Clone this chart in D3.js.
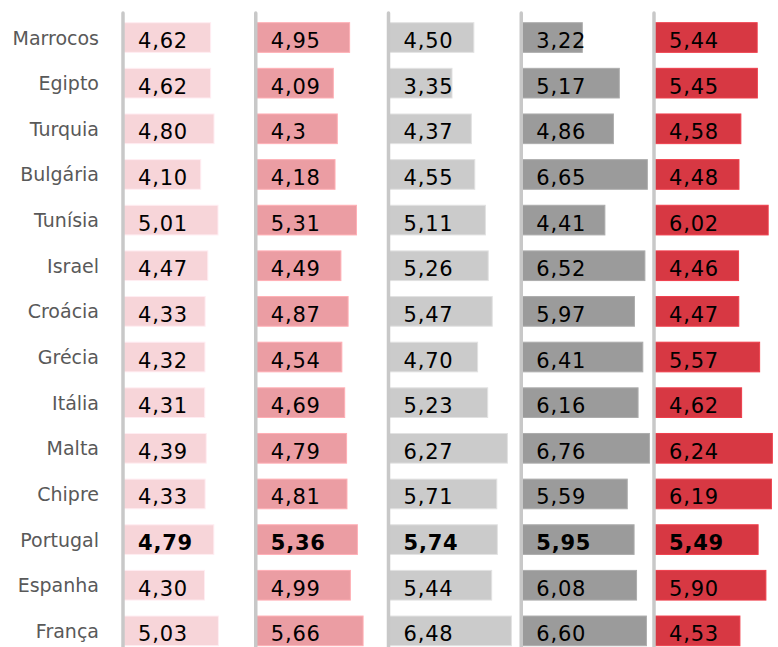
<!DOCTYPE html>
<html>
<head>
<meta charset="utf-8">
<script src="https://cdn.jsdelivr.net/npm/d3@7"></script>
<style>
  body { margin: 0; background: #fff; }
  svg { display: block; font-family: Verdana, "DejaVu Sans", sans-serif; }
</style>
</head>
<body>
<svg id="chart"></svg>
<script>
const countries = ['Marrocos', 'Egipto', 'Turquia', 'Bulgária', 'Tunísia', 'Israel', 'Croácia',
    'Grécia', 'Itália', 'Malta', 'Chipre', 'Portugal', 'Espanha', 'França'];

const series1 = [4.62, 4.62, 4.80, 4.10, 5.01, 4.47, 4.33, 4.32, 4.31, 4.39, 4.33, 4.79, 4.30, 5.03];
const series2 = [4.95, 4.09, 4.3, 4.18, 5.31, 4.49, 4.87, 4.54, 4.69, 4.79, 4.81, 5.36, 4.99, 5.66];
const series3 = [4.50, 3.35, 4.37, 4.55, 5.11, 5.26, 5.47, 4.70, 5.23, 6.27, 5.71, 5.74, 5.44, 6.48];
const series4 = [3.22, 5.17, 4.86, 6.65, 4.41, 6.52, 5.97, 6.41, 6.16, 6.76, 5.59, 5.95, 6.08, 6.60];
const series5 = [5.44, 5.45, 4.58, 4.48, 6.02, 4.46, 4.47, 5.57, 4.62, 6.24, 6.19, 5.49, 5.90, 4.53];

// labels as printed (one value shows a single decimal)
const labels2 = ['4,95', '4,09', '4,3', '4,18', '5,31', '4,49', '4,87', '4,54', '4,69', '4,79', '4,81', '5,36', '4,99', '5,66'];

const seriesColors = ['#f7d5d9', '#eb9da3', '#cbcbcb', '#9b9b9b', '#d73843'];
const highlight = 'Portugal';

const width = 778, height = 647;
const svg = d3.select('#chart').attr('width', width).attr('height', height);

const columns = [series1, series2, series3, series4, series5];
const fmt = v => v.toFixed(2).replace('.', ',');

const colStep = 132.75;
const x0 = d3.scaleBand()
    .domain(d3.range(columns.length))
    .range([123, 123 + colStep * columns.length]);

const x = d3.scaleLinear().domain([0, 7]).range([0, colStep]);

const y = d3.scaleBand()
    .domain(countries)
    .range([14.7, 653.7])
    .paddingInner(0.35)
    .paddingOuter(0.175);

// country labels
svg.append('g')
    .selectAll('text')
    .data(countries)
    .enter().append('text')
    .attr('x', 99)
    .attr('y', d => y(d) + y.bandwidth() / 2 + 7)
    .attr('text-anchor', 'end')
    .attr('fill', '#595959')
    .style('font-size', '19px')
    .text(d => d);

columns.forEach((vals, i) => {
    const g = svg.append('g').attr('transform', `translate(${x0(i)},0)`);
    const rows = countries.map((c, j) => ({ country: c, value: vals[j],
        label: i === 1 ? labels2[j] : fmt(vals[j]) }));

    g.selectAll('rect')
        .data(rows)
        .enter().append('rect')
        .attr('x', 0)
        .attr('y', d => y(d.country))
        .attr('width', d => x(d.value))
        .attr('height', y.bandwidth())
        .attr('fill', seriesColors[i])
        .attr('stroke', d3.color(seriesColors[i]).brighter(0.3))
        .attr('stroke-width', 1);

    g.append('line')
        .attr('x1', 0).attr('x2', 0)
        .attr('y1', 13).attr('y2', height)
        .attr('stroke', '#c8c8c8')
        .attr('stroke-width', 3.5)
        .attr('stroke-linecap', 'round');

    g.selectAll('text.val')
        .data(rows)
        .enter().append('text')
        .attr('class', 'val')
        .attr('x', 15)
        .attr('y', d => y(d.country) + y.bandwidth() / 2 + 10.5)
        .attr('fill', '#000')
        .style('font-size', '21px')
        .style('letter-spacing', '0.8px')
        .style('font-weight', d => d.country === highlight ? 'bold' : 'normal')
        .text(d => d.label);
});
</script>
</body>
</html>
